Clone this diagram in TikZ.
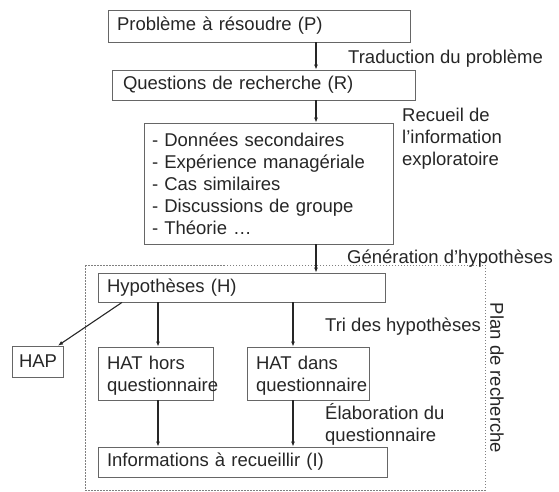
\documentclass[tikz,border=0pt]{standalone}
\usepackage{fontspec}
\setmainfont{Liberation Sans}
\usetikzlibrary{arrows.meta}
\begin{document}
\begin{tikzpicture}[x=1pt,y=-1pt,
  every node/.style={font=\fontsize{18.5}{22}\selectfont, text=black!85},
  boxx/.style={draw=black!60, line width=0.8pt, inner xsep=9pt, inner ysep=0pt, align=left},
  lbl/.style={inner sep=0pt, anchor=base west, align=left},
  arr/.style={draw=black!85, line width=1.1pt, -{Latex[length=5pt,width=4pt]}}]
\useasboundingbox (0,0) rectangle (559,491);
% plan de recherche frame
\draw[black!50, line width=0.7pt, dash pattern=on 1.5pt off 1.5pt] (85,265) rectangle (485,490);
\node[rotate=-90, inner sep=0pt] (plan) at (497,378) {Plan de recherche};
% boxes
\node[boxx, text width=284pt, minimum height=32pt] (P) at (259,26) {Problème à résoudre (P)};
\node[boxx, text width=281pt, minimum height=30pt, inner xsep=11pt] (R) at (263.5,85) {Questions de recherche (R)};
\node[boxx, text width=233pt, minimum height=121pt, inner xsep=8pt] (L) at (268.5,183.5) {- Données secondaires\\- Expérience managériale\\- Cas similaires\\- Discussions de groupe\\- Théorie \dots};
\node[boxx, text width=269pt, minimum height=29pt] (H) at (241.5,287.5) {Hypothèses (H)};
\node[boxx, text width=37pt, minimum height=31pt, inner xsep=7pt] (HAP) at (37.5,361.5) {HAP};
\node[boxx, text width=97pt, minimum height=53pt] (HH) at (155.5,373.5) {\rule{0pt}{17pt}HAT hors\\questionnaire};
\node[boxx, text width=104pt, minimum height=53pt] (HD) at (308,373.5) {\rule{0pt}{17pt}HAT dans\\questionnaire};
\node[boxx, text width=271pt, minimum height=30pt] (I) at (242.5,462) {Informations à recueillir (I)};
% labels
\node[lbl] (t1) at (348,63) {Traduction du problème};
\node[lbl] (t2) at (402,165) {Recueil de\\l’information\\exploratoire};
\node[lbl] (t3) at (347,263) {Génération d’hypothèses};
\node[lbl] (t4) at (325,331) {Tri des hypothèses};
\node[lbl] (t5) at (325,441) {Élaboration du\\questionnaire};
% connectors
\coordinate (cx) at (316,0);
\coordinate (ca) at (158,0);
\coordinate (cb) at (293,0);
\coordinate (hs) at (122,0);
\coordinate (ht) at (58,0);
\draw[arr] (P.south -| cx) -- (R.north -| cx);
\draw[arr] (R.south -| cx) -- (L.north -| cx);
\draw[arr] (L.south -| cx) -- (H.north -| cx);
\draw[arr] (H.south -| ca) -- (HH.north -| ca);
\draw[arr] (H.south -| cb) -- (HD.north -| cb);
\draw[arr] (HH.south -| ca) -- (I.north -| ca);
\draw[arr] (HD.south -| cb) -- (I.north -| cb);
\draw[arr] (H.south -| hs) -- (HAP.north -| ht);
\end{tikzpicture}
\end{document}
